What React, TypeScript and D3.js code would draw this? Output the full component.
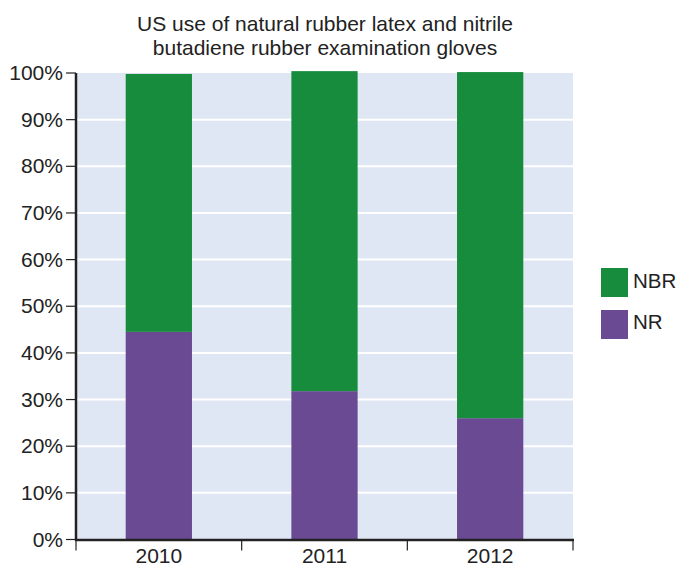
import React from "react";
import * as d3 from "d3";

const years = ["2010", "2011", "2012"];
const nrValues = [44.5, 31.8, 26.0];
const nbrValues = [55.3, 68.6, 74.2];
const yTicks = [0, 10, 20, 30, 40, 50, 60, 70, 80, 90, 100];
const seriesNames = ["NBR", "NR"];
const seriesColors: Record<string, string> = { NBR: "#178c3c", NR: "#694a93" };

export default function App() {
  const W = 679, H = 568;
  const left = 76, right = 573, top = 73, bottom = 539.5;
  const x = d3.scaleBand<string>().domain(years).range([left, right]).paddingInner(0.6).paddingOuter(0.3);
  const y = d3.scaleLinear().domain([0, 100]).range([bottom, top]);
  const font = "'Liberation Sans', Arial, Helvetica, sans-serif";
  const step = x.step();
  const bandEdges = [left, ...years.map((_, i) => left + step * (i + 1))];

  return (
    <svg width={W} height={H} style={{ position: "absolute", left: 0, top: 0 }} fontFamily={font}>
      <rect x={0} y={0} width={W} height={H} fill="#fff" />
      <text x={325} y={31} textAnchor="middle" fontSize={21} fill="#222">US use of natural rubber latex and nitrile</text>
      <text x={325} y={55} textAnchor="middle" fontSize={21} fill="#222">butadiene rubber examination gloves</text>
      <rect x={left} y={top} width={right - left} height={bottom - top} fill="#e0e7f4" />
      {yTicks.filter(t => t > 0 && t < 100).map(t => (
        <line key={t} x1={left} x2={right} y1={y(t)} y2={y(t)} stroke="#fff" strokeWidth={2} />
      ))}
      {years.map((yr, i) => (
        <g key={yr}>
          <rect x={x(yr)} width={x.bandwidth()} y={y(nrValues[i])} height={y(0) - y(nrValues[i])} fill={seriesColors.NR} />
          <rect x={x(yr)} width={x.bandwidth()} y={y(nrValues[i] + nbrValues[i])} height={y(nrValues[i]) - y(nrValues[i] + nbrValues[i])} fill={seriesColors.NBR} />
        </g>
      ))}
      <line x1={left} x2={left} y1={y(100)} y2={bottom + 1} stroke="#222" strokeWidth={2.5} />
      <line x1={left - 1} x2={right + 1} y1={bottom + 0.5} y2={bottom + 0.5} stroke="#222" strokeWidth={2.5} />
      {yTicks.map(t => (
        <g key={t}>
          <line x1={left - 10} x2={left} y1={y(t)} y2={y(t)} stroke="#222" strokeWidth={1.2} />
          <text x={left - 13} y={y(t) + 7} textAnchor="end" fontSize={21} fill="#222">{t}%</text>
        </g>
      ))}
      {bandEdges.map((bx, i) => (
        <line key={i} x1={bx} x2={bx} y1={bottom} y2={bottom + 11} stroke="#222" strokeWidth={1.2} />
      ))}
      {years.map(yr => (
        <text key={yr} x={(x(yr) as number) + x.bandwidth() / 2} y={563} textAnchor="middle" fontSize={21} fill="#222">{yr}</text>
      ))}
      {seriesNames.map((s, i) => (
        <g key={s}>
          <rect x={601} y={268 + i * 42} width={27} height={29} fill={seriesColors[s]} />
          <text x={633} y={288 + i * 41} fontSize={20.5} fill="#222">{s}</text>
        </g>
      ))}
    </svg>
  );
}
